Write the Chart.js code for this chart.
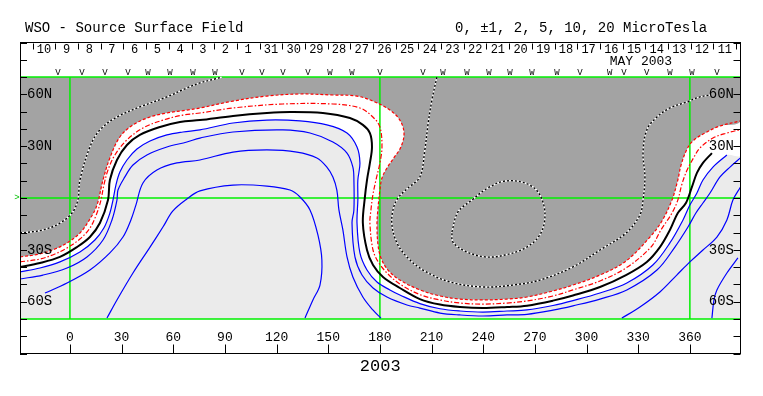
<!DOCTYPE html>
<html>
<head>
<meta charset="utf-8">
<script src="https://cdn.jsdelivr.net/npm/chart.js"></script>
<style>
html,body{margin:0;padding:0;background:#fff;}
#wrap{position:relative;width:763px;height:396px;overflow:hidden;}
canvas{position:absolute;left:0;top:0;}
.t{position:absolute;font:14px "Liberation Mono",monospace;line-height:16px;white-space:pre;color:#000;}
</style>
</head>
<body>
<div id="wrap">
<canvas id="c" width="763" height="396"></canvas>
<div class="t" style="left:25px;top:20px">WSO - Source Surface Field</div>
<div class="t" style="left:455px;top:20px">0, ±1, 2, 5, 10, 20 MicroTesla</div>
</div>
<script>
// ---------- axis ranges / tick labels ----------
const lonMin = -29.0, lonMax = 389.4, latMin = -90, latMax = 90, latEdge = 70;
const lonTicks = [0,30,60,90,120,150,180,210,240,270,300,330,360];
const latTicks = [-90,-80,-70,-60,-50,-40,-30,-20,-10,0,10,20,30,40,50,60,70,80,90];
const latLabelVals = [-60,-30,30,60];
const latLabelText = ['60S','30S','30N','60N'];
const dayLabels = ['10','9','8','7','6','5','4','3','2','1','31','30','29','28','27','26','25','24','23','22','21','20','19','18','17','16','15','14','13','12','11'];
const dayLon = [-15.1,-1.9,11.3,24.4,37.6,50.8,64.0,77.2,90.3,103.5,116.7,129.9,143.1,156.2,169.4,182.6,195.8,209.0,222.1,235.3,248.5,261.7,274.9,288.0,301.2,314.4,327.6,340.8,353.9,367.1,380.3];
const dayTickLon = [-21.7,-8.5,4.7,17.9,31.0,44.2,57.4,70.6,83.8,96.9,110.1,123.3,136.5,149.7,162.8,176.0,189.2,202.4,215.5,228.7,241.9,255.1,268.3,281.4,294.6,307.8,321.0,334.2,347.3,360.5,373.7,386.9];
const monthLabel = 'MAY 2003';
const yearLabel = '2003';
const markLon = [-7.0,7.0,20.3,33.7,45.3,58.1,71.4,84.2,99.9,111.5,123.7,138.2,151.0,163.7,180.0,205.0,216.6,230.5,243.3,255.5,268.3,282.8,296.1,313.5,321.7,335.0,348.4,361.2,375.7];
const markType = ['V','V','V','V','W','W','W','W','V','V','V','V','W','W','V','V','W','W','W','W','W','W','V','W','V','V','W','W','V'];
const refLon = [0,180,360];
const refLat = [-70,0,70];

// ---------- contour lines [Carrington longitude, latitude] ----------
const contourNeg2 = [[-29.0,-34.1],[-17.4,-32.4],[-8.7,-29.5],[-1.7,-26.0],[5.8,-20.3],[11.6,-12.2],[15.7,-4.1],[19.2,10.4],[23.2,23.2],[29.0,35.3],[36.6,42.3],[46.5,46.9],[56.3,49.2],[67.9,50.9],[75.5,52.1],[94.7,56.1],[114.4,59.0],[133.6,60.2],[152.7,59.6],[166.7,59.0],[177.1,55.6],[185.8,50.9],[191.6,45.1],[194.0,37.6],[192.2,29.5],[188.1,23.2],[184.1,17.4],[181.2,11.6],[180.0,4.6],[178.8,-6.9],[178.3,-15.6],[178.9,-27.2],[180.6,-34.7],[184.7,-41.7],[191.6,-47.5],[203.2,-53.2],[214.9,-56.7],[226.5,-58.5],[239.8,-59.0],[253.8,-58.5],[265.4,-57.3],[280.5,-53.8],[292.1,-50.4],[307.8,-44.6],[322.9,-36.5],[336.8,-22.6],[343.8,-13.3],[349.6,-1.2],[353.0,10.4],[354.9,19.1],[358.4,28.4],[362.4,33.6],[369.9,38.2],[377.5,41.7],[389.4,44.6]];
const contourNeg1 = [[-29.0,-37.0],[-17.4,-35.3],[-8.7,-32.4],[-1.7,-28.9],[5.8,-23.7],[11.6,-17.4],[15.7,-8.7],[18.0,-1.2],[19.7,7.5],[22.1,16.2],[26.1,24.9],[33.1,33.6],[42.4,40.5],[54.0,45.1],[65.6,48.0],[75.5,49.2],[94.7,52.1],[123.7,54.4],[152.7,54.4],[168.4,52.1],[175.9,46.9],[180.0,41.1],[181.2,29.5],[180.0,20.3],[177.7,10.4],[175.9,1.7],[174.8,-6.9],[174.2,-14.5],[176.0,-30.1],[179.4,-37.6],[184.7,-44.0],[191.6,-49.8],[203.2,-55.9],[214.9,-59.0],[226.5,-60.8],[239.8,-61.4],[253.8,-60.8],[265.4,-59.6],[280.5,-56.7],[292.1,-53.2],[307.8,-48.0],[322.9,-40.5],[337.4,-28.4],[343.2,-18.5],[349.6,-8.7],[353.0,-1.2],[355.4,8.1],[358.4,16.2],[362.4,23.7],[365.8,28.9],[373.4,34.7],[381.5,37.6],[389.4,39.6]];
const neutralLine = [[-29.0,-39.9],[-17.4,-37.6],[-5.8,-34.1],[4.1,-28.4],[11.6,-22.6],[17.4,-14.5],[22.1,-1.2],[23.2,10.4],[27.3,22.0],[33.1,30.7],[40.6,36.5],[52.3,41.1],[63.9,44.0],[75.5,45.1],[94.7,47.5],[114.4,49.2],[127.8,49.8],[146.9,49.2],[162.6,46.3],[170.1,42.3],[174.2,37.6],[175.4,29.5],[174.2,20.3],[172.5,10.4],[171.3,0.6],[170.1,-14.5],[172.5,-30.1],[176.0,-38.8],[181.8,-45.7],[191.6,-52.1],[203.2,-58.5],[214.9,-61.7],[226.5,-63.1],[239.8,-63.7],[253.8,-63.1],[265.4,-62.3],[280.5,-59.4],[292.1,-56.4],[307.8,-51.5],[322.9,-44.6],[335.0,-37.0],[342.6,-28.4],[348.4,-18.5],[353.0,-8.7],[357.7,-2.9],[361.2,6.4],[364.1,14.5],[367.6,20.3],[372.8,26.0]];
const contourPos1 = [[-29.0,-42.8],[-17.4,-40.5],[-5.8,-37.0],[5.8,-31.3],[14.5,-24.3],[19.7,-17.4],[23.2,-8.7],[25.0,-1.2],[26.7,7.5],[29.0,15.0],[33.1,22.0],[38.9,28.4],[46.5,33.0],[56.3,36.5],[65.6,38.2],[75.5,39.4],[94.7,43.4],[114.4,45.1],[133.6,44.6],[149.2,42.3],[160.9,37.6],[166.7,29.5],[168.4,20.3],[167.2,10.4],[167.2,-1.2],[166.7,-14.5],[168.4,-31.8],[172.5,-41.7],[178.3,-48.6],[185.8,-53.2],[191.6,-56.1],[203.2,-61.1],[214.9,-64.1],[226.5,-65.4],[239.8,-66.0],[253.8,-65.4],[265.4,-64.8],[280.5,-62.2],[292.1,-59.4],[307.8,-55.0],[323.4,-49.2],[338.5,-38.8],[348.4,-26.0],[356.0,-12.7],[360.0,-4.1],[364.1,2.9],[367.6,10.4],[373.4,17.9],[381.5,24.9]];
const contourPos2 = [[-29.0,-46.9],[-15.7,-44.6],[-1.7,-40.5],[9.9,-34.1],[19.2,-24.3],[24.4,-12.7],[27.3,-1.2],[27.9,4.6],[31.9,12.2],[36.6,19.1],[44.7,24.9],[56.3,29.5],[67.9,32.4],[75.5,34.7],[94.7,38.2],[123.7,39.4],[139.4,37.6],[152.7,32.4],[160.9,26.0],[164.3,17.9],[164.9,10.4],[164.9,-6.9],[163.8,-14.5],[165.5,-34.1],[169.6,-44.6],[176.0,-52.1],[184.1,-57.3],[195.7,-61.9],[203.2,-63.7],[214.9,-66.6],[226.5,-67.7],[239.8,-68.3],[253.8,-67.7],[265.4,-67.3],[280.5,-64.9],[292.1,-62.4],[307.8,-58.5],[323.4,-53.2],[340.9,-41.7],[351.3,-28.4],[358.9,-16.8],[363.5,-8.7],[367.6,-2.9],[371.7,2.9],[377.5,12.2],[383.3,17.9],[389.4,23.2]];
const contourPos5 = [[-14.5,-55.0],[-1.7,-49.2],[11.6,-41.7],[23.2,-31.8],[30.8,-22.6],[35.4,-12.7],[38.3,-4.1],[42.4,8.7],[50.5,16.2],[62.1,20.3],[75.5,22.0],[94.7,26.6],[114.4,27.8],[131.8,26.6],[143.4,23.2],[149.2,17.9],[152.7,12.2],[155.0,4.6],[156.2,-6.9],[158.5,-18.5],[160.9,-34.1],[164.3,-45.7],[170.1,-57.3],[175.9,-64.8],[180.6,-69.5]];
const contourPos10 = [[21.5,-69.5],[27.3,-59.0],[36.6,-43.4],[46.5,-28.4],[54.0,-16.8],[59.8,-7.5],[67.9,-0.6],[75.5,4.1],[94.7,7.5],[114.4,6.9],[127.8,4.6],[133.6,0.6],[139.4,-6.9],[144.0,-21.4],[146.3,-35.9],[145.2,-50.4],[141.1,-59.0],[136.5,-69.5]];
const contourPos5East = [[320.5,-69.5],[331.0,-63.1],[342.6,-54.4],[352.4,-44.6],[360.0,-37.0],[367.6,-30.1],[375.7,-22.6],[381.5,-12.7],[385.0,-1.2],[389.4,6.4]];
const contourPos10East = [[372.8,-69.5],[374.0,-59.0],[375.7,-53.2],[381.5,-43.4],[387.9,-34.7]];
const contourNegWest = [[-29.0,-20.3],[-15.7,-18.5],[-5.8,-14.5],[1.2,-8.7],[4.6,-1.2],[5.8,10.4],[11.6,29.5],[17.4,39.4],[27.3,46.9],[40.6,52.7],[56.3,58.5],[67.9,63.7],[75.5,66.6],[84.2,68.9],[88.3,70.0]];
const contourNegEast = [[213.1,70.0],[210.2,56.7],[207.9,42.3],[206.1,27.8],[203.2,12.2],[196.3,5.8],[190.5,0.0],[187.6,-6.9],[187.0,-15.6],[189.9,-26.0],[195.7,-34.1],[205.0,-41.7],[220.7,-48.6],[239.8,-51.5],[257.2,-50.4],[272.9,-47.5],[292.1,-39.9],[307.8,-30.1],[322.9,-20.3],[331.0,-9.8],[332.8,-1.2],[333.9,12.2],[332.8,26.0],[335.0,39.4],[340.9,46.9],[348.4,52.1],[358.4,55.6],[365.8,58.5],[371.7,59.6]];
const contourNegCore = [[221.8,-19.7],[225.3,-8.1],[233.4,-1.2],[242.7,5.8],[252.6,9.8],[264.2,8.7],[271.8,3.5],[275.8,-8.1],[273.5,-20.3],[265.4,-28.4],[252.6,-33.0],[241.0,-34.1],[229.4,-30.7],[222.4,-25.5],[221.8,-19.7]];

// ---------- build datasets ----------
const toXY = arr => arr.map(p => ({x: p[0], y: p[1]}));
function closeToTop(line) {
  const pts = line.slice();
  const last = pts[pts.length - 1];
  if (last[0] < lonMax - 0.5) pts.push([lonMax, last[1]]);
  pts.push([lonMax, latEdge], [lonMax - 1, latEdge], [lonMin + 1, latEdge], [lonMin, latEdge]);
  return pts;
}
const layers = [];
function add(ds) {
  layers.push(Object.assign({xAxisID: 'x', yAxisID: 'y', pointRadius: 0, pointHoverRadius: 0,
    tension: 0.35, borderWidth: 1, fill: false, borderColor: 'transparent'}, ds));
}
add({data: toXY(closeToTop(contourPos1)), backgroundColor: '#ffffff', fill: 'shape', borderWidth: 0});
add({data: toXY(closeToTop(contourNeg2)), backgroundColor: '#a3a3a3', fill: 'shape', borderWidth: 0});
refLon.forEach(v => add({data: [{x: v, y: -latEdge}, {x: v, y: latEdge}], borderColor: '#00f000', borderWidth: 1.5, tension: 0}));
refLat.forEach(v => add({data: [{x: lonMin, y: v}, {x: lonMax, y: v}], borderColor: '#00f000', borderWidth: 1.5, tension: 0}));
[contourNegWest, contourNegEast, contourNegCore].forEach(l => {
  add({data: toXY(l), borderColor: '#ffffff', borderWidth: 1.4});
  add({data: toXY(l), borderColor: '#000000', borderWidth: 1.4, borderDash: [2, 2]});
});
[contourPos10, contourPos5, contourPos2, contourPos1, contourPos5East, contourPos10East].forEach(l =>
  add({data: toXY(l), borderColor: '#0000ff', borderWidth: 1.2}));
add({data: toXY(contourNeg1), borderColor: '#ff0000', borderWidth: 1.2, borderDash: [5, 2, 1.5, 2]});
add({data: toXY(contourNeg2), borderColor: '#ff0000', borderWidth: 1.2, borderDash: [3, 2]});
add({data: toXY(neutralLine), borderColor: '#000000', borderWidth: 2});
layers.forEach((d, i) => { d.order = layers.length - i; });

// ---------- decorations drawn through the scales ----------
const decor = {
  id: 'decor',
  beforeDatasetsDraw(chart) {
    const {ctx, scales: {x, y}} = chart;
    const l = x.getPixelForValue(lonMin), r = x.getPixelForValue(lonMax);
    const t = y.getPixelForValue(latEdge), b = y.getPixelForValue(-latEdge);
    ctx.save();
    ctx.fillStyle = '#ebebeb';
    ctx.fillRect(l, t, r - l, b - t);
    ctx.restore();
  },
  afterDraw(chart) {
    const {ctx, chartArea: a, scales: {x, y, x2}} = chart;
    ctx.save();
    ctx.strokeStyle = '#000';
    ctx.lineWidth = 1;
    ctx.beginPath();
    x.ticks.forEach(t => { const p = Math.round(x.getPixelForValue(t.value)) + 0.5; ctx.moveTo(p, a.bottom); ctx.lineTo(p, a.bottom - 9); });
    y.ticks.forEach(t => { const p = Math.round(y.getPixelForValue(t.value)) + 0.5; ctx.moveTo(a.left, p); ctx.lineTo(a.left + 7, p); ctx.moveTo(a.right, p); ctx.lineTo(a.right - 7, p); });
    dayTickLon.forEach(v => { const p = Math.round(x2.getPixelForValue(v)) + 0.5; ctx.moveTo(p, a.top + 1); ctx.lineTo(p, a.top + 7); });
    ctx.stroke();
    ctx.fillStyle = '#000';
    ctx.textAlign = 'center';
    ctx.textBaseline = 'middle';
    ctx.font = '13px "Liberation Mono"';
    ctx.fillText(monthLabel, x2.getPixelForValue(331.6), y.getPixelForValue(78.7));
    ctx.font = '9px "Liberation Mono"';
    markLon.forEach((v, i) => ctx.fillText(markType[i], x2.getPixelForValue(v), y.getPixelForValue(72.4)));
    ctx.fillStyle = '#00c000';
    ctx.fillText('>', a.left - 3, y.getPixelForValue(0));
    ctx.restore();
  }
};

Chart.defaults.font.family = '"Liberation Mono", monospace';
Chart.defaults.color = '#000';

const latLabel = v => { const i = latLabelVals.indexOf(v); return i < 0 ? '' : latLabelText[i]; };
const noGrid = {display: false, drawTicks: false};
const blackBorder = {display: true, color: '#000', width: 1, z: 2};

new Chart(document.getElementById('c'), {
  type: 'line',
  data: {datasets: layers},
  options: {
    responsive: false,
    animation: false,
    events: [],
    layout: {padding: {left: 20, right: 22.5, top: 42.5, bottom: 19.8}},
    plugins: {legend: {display: false}, tooltip: {enabled: false}},
    scales: {
      x: {
        type: 'linear', position: 'bottom', min: lonMin, max: lonMax,
        afterBuildTicks: s => { s.ticks = lonTicks.map(v => ({value: v})); },
        afterFit: s => { s.height = 22.7; },
        ticks: {z: 2, mirror: true, padding: 7.7, autoSkip: false, maxRotation: 0, minRotation: 0, font: {size: 13}, color: '#000', callback: v => String(v)},
        grid: noGrid, border: blackBorder,
        title: {display: true, text: yearLabel, font: {size: 17}, color: '#000', padding: 0}
      },
      x2: {
        type: 'linear', position: 'top', min: lonMin, max: lonMax,
        afterBuildTicks: s => { s.ticks = dayLon.map(v => ({value: v})); },
        afterFit: s => { s.height = 0; },
        ticks: {z: 2, mirror: true, padding: 0.3, autoSkip: false, maxRotation: 0, minRotation: 0, font: {size: 12}, color: '#000', callback: (v, i) => dayLabels[i]},
        grid: noGrid, border: blackBorder
      },
      y: {
        type: 'linear', position: 'left', min: latMin, max: latMax,
        afterBuildTicks: s => { s.ticks = latTicks.map(v => ({value: v})); },
        afterFit: s => { s.width = 0; },
        ticks: {z: 2, mirror: true, padding: 7, autoSkip: false, font: {size: 14}, color: '#000', callback: latLabel},
        grid: noGrid, border: blackBorder
      },
      y2: {
        type: 'linear', position: 'right', min: latMin, max: latMax,
        afterBuildTicks: s => { s.ticks = latTicks.map(v => ({value: v})); },
        afterFit: s => { s.width = 0; },
        ticks: {z: 2, mirror: true, padding: -6.5, autoSkip: false, font: {size: 14}, color: '#000', callback: latLabel},
        grid: noGrid, border: blackBorder
      }
    }
  },
  plugins: [decor]
});
</script>
</body>
</html>
